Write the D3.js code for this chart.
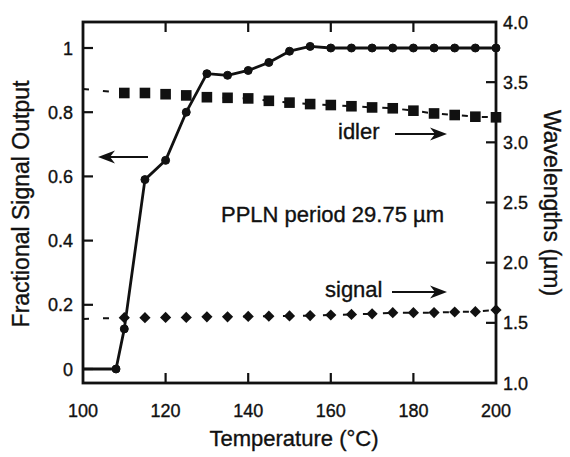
<!DOCTYPE html>
<html><head><meta charset="utf-8">
<script src="https://cdn.jsdelivr.net/npm/d3@7"></script>
<style>
body{margin:0;background:#fff;}
svg{display:block;font-family:"Liberation Sans",Arial,Helvetica,sans-serif;}
svg text{stroke:#111;stroke-width:0.35px;}
</style></head>
<body><svg id="c" width="570" height="457"></svg>
<script>
// ---- data ----
const fracT      = [100, 108, 110, 115, 120, 125, 130, 135, 140, 145, 150, 155, 160, 165, 170, 175, 180, 185, 190, 195, 200];
const fracValues = [0, 0, 0.125, 0.59, 0.65, 0.80, 0.92, 0.915, 0.93, 0.955, 0.99, 1.005, 1.0, 1.0, 1.0, 1.0, 1.0, 1.0, 1.0, 1.0, 1.0];

const wlT        = [110, 115, 120, 125, 130, 135, 140, 145, 150, 155, 160, 165, 170, 175, 180, 185, 190, 195, 200];
const idlerWl    = [3.41, 3.41, 3.40, 3.39, 3.375, 3.37, 3.365, 3.345, 3.33, 3.318, 3.31, 3.30, 3.29, 3.283, 3.263, 3.24, 3.227, 3.213, 3.208];
const signalWl   = [1.543, 1.543, 1.545, 1.545, 1.55, 1.55, 1.553, 1.555, 1.557, 1.56, 1.565, 1.57, 1.575, 1.584, 1.584, 1.585, 1.59, 1.593, 1.607];

const theoryT       = [100];
const idlerTheory   = [3.443];
const signalTheory  = [1.532];

const xTicks  = [100, 120, 140, 160, 180, 200];
const yLTicks = [0, 0.2, 0.4, 0.6, 0.8, 1];
const yLLabels = ["0", "0.2", "0.4", "0.6", "0.8", "1"];
const yRTicks = [1.0, 1.5, 2.0, 2.5, 3.0, 3.5, 4.0];

// ---- layout ----
const L = 83, R = 496, T = 22, B = 383;
const svg = d3.select("#c");
const x  = d3.scaleLinear().domain([100, 200]).range([L, R]);
const yL = d3.scaleLinear().domain([0, 1]).range([369, 48]);
const yR = d3.scaleLinear().domain([1, 4]).range([B, T]);

const ink = "#111";

// dashed theory lines + data
function dashedSeries(tt, th, t, v) {
  const pts = tt.map((d, i) => [d, th[i]]).concat(t.map((d, i) => [d, v[i]]));
  svg.append("path")
    .attr("d", d3.line().x(d => x(d[0])).y(d => yR(d[1]))(pts))
    .attr("fill", "none").attr("stroke", ink).attr("stroke-width", 2)
    .attr("stroke-dasharray", "6,14");
}
dashedSeries(theoryT, idlerTheory, wlT, idlerWl);
dashedSeries(theoryT, signalTheory, wlT, signalWl);

// idler squares
svg.append("g").selectAll("rect").data(wlT.map((t, i) => [t, idlerWl[i]])).join("rect")
  .attr("x", d => x(d[0]) - 5.3).attr("y", d => yR(d[1]) - 5.3)
  .attr("width", 10.6).attr("height", 10.6).attr("fill", ink);

// signal diamonds
svg.append("g").selectAll("path").data(wlT.map((t, i) => [t, signalWl[i]])).join("path")
  .attr("d", d3.symbol().type(d3.symbolDiamond2).size(80))
  .attr("transform", d => `translate(${x(d[0])},${yR(d[1])})`)
  .attr("fill", ink);

// fractional output line
const fracPts = fracT.map((t, i) => [t, fracValues[i]]);
svg.append("path")
  .attr("d", d3.line().x(d => x(d[0])).y(d => yL(d[1]))(fracPts))
  .attr("fill", "none").attr("stroke", ink).attr("stroke-width", 2.8).attr("stroke-linejoin", "round");
svg.append("g").selectAll("circle").data(fracPts.filter(d => d[0] > 100)).join("circle")
  .attr("cx", d => x(d[0])).attr("cy", d => yL(d[1])).attr("r", 4)
  .attr("fill", ink).attr("stroke", ink).attr("stroke-width", 1);

// frame
svg.append("rect").attr("x", L).attr("y", T).attr("width", R - L).attr("height", B - T)
  .attr("fill", "none").attr("stroke", ink).attr("stroke-width", 2.8);

// ticks
const tk = 10;
const inner = xTicks.slice(1, -1);
svg.append("g").selectAll("line").data(inner).join("line")
  .attr("x1", d => x(d)).attr("x2", d => x(d)).attr("y1", B).attr("y2", B - tk)
  .attr("stroke", ink).attr("stroke-width", 2.2);
svg.append("g").selectAll("line").data(inner).join("line")
  .attr("x1", d => x(d)).attr("x2", d => x(d)).attr("y1", T).attr("y2", T + tk)
  .attr("stroke", ink).attr("stroke-width", 2.2);
svg.append("g").selectAll("line").data(yLTicks).join("line")
  .attr("x1", L).attr("x2", L + tk).attr("y1", d => yL(d)).attr("y2", d => yL(d))
  .attr("stroke", ink).attr("stroke-width", 2.2);
svg.append("g").selectAll("line").data(yRTicks.slice(1, -1)).join("line")
  .attr("x1", R).attr("x2", R - tk).attr("y1", d => yR(d)).attr("y2", d => yR(d))
  .attr("stroke", ink).attr("stroke-width", 2.2);

// tick labels
const tfs = 18;
svg.append("g").selectAll("text").data(xTicks).join("text")
  .attr("x", d => x(d)).attr("y", 417).attr("text-anchor", "middle")
  .attr("font-size", tfs).attr("fill", ink).text(d => d);
svg.append("g").selectAll("text").data(yLTicks).join("text")
  .attr("x", 73).attr("y", d => yL(d) + 6.5).attr("text-anchor", "end")
  .attr("font-size", tfs).attr("fill", ink).text((d, i) => yLLabels[i]);
svg.append("g").selectAll("text").data(yRTicks).join("text")
  .attr("x", 503).attr("y", d => yR(d) + 6.5).attr("text-anchor", "start")
  .attr("font-size", tfs).attr("fill", ink).text(d => d.toFixed(1));

// axis titles
const afs = 22;
svg.append("text").attr("x", 294).attr("y", 446).attr("text-anchor", "middle")
  .attr("font-size", afs).attr("fill", ink).text("Temperature (°C)");
svg.append("text").attr("transform", "translate(29,204) rotate(-90)").attr("text-anchor", "middle")
  .attr("font-size", 23).attr("fill", ink).text("Fractional Signal Output");
svg.append("text").attr("transform", "translate(544,203) rotate(90)").attr("text-anchor", "middle")
  .attr("font-size", 23).attr("fill", ink).text("Wavelengths (µm)");

// annotations
const nfs = 22;
svg.append("text").attr("x", 221).attr("y", 222).attr("font-size", nfs).attr("fill", ink).text("PPLN period 29.75 µm");
svg.append("text").attr("x", 338).attr("y", 139).attr("font-size", nfs).attr("fill", ink).text("idler");
svg.append("text").attr("x", 325).attr("y", 297).attr("font-size", nfs).attr("fill", ink).text("signal");

function arrow(x1, x2, y) {
  const dir = Math.sign(x2 - x1);
  svg.append("line").attr("x1", x1).attr("x2", x2 - dir * 12).attr("y1", y).attr("y2", y)
    .attr("stroke", ink).attr("stroke-width", 2.2);
  svg.append("path").attr("d", `M${x2},${y} L${x2 - dir * 17},${y - 6.5} L${x2 - dir * 12},${y} L${x2 - dir * 17},${y + 6.5} Z`)
    .attr("fill", ink);
}
arrow(148, 98, 157);
arrow(395, 447, 134);
arrow(392, 447, 292);
</script></body></html>
